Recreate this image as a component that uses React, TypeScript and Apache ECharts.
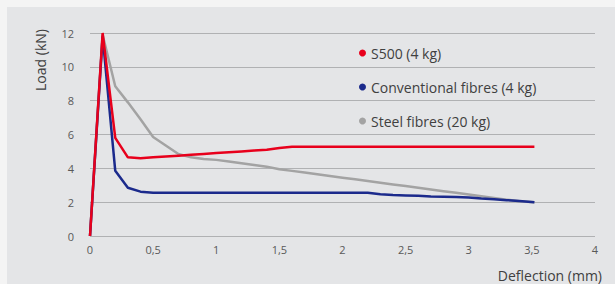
import React, { useEffect, useRef } from "react";
import * as echarts from "echarts";

const deflection = [0, 0.1, 0.2, 0.3, 0.4, 0.5, 0.6, 0.7, 0.8, 0.9, 1.0, 1.1, 1.2, 1.3, 1.4, 1.5, 1.6, 1.7, 1.8, 1.9, 2.0, 2.1, 2.2, 2.3, 2.4, 2.5, 2.6, 2.7, 2.8, 2.9, 3.0, 3.1, 3.2, 3.3, 3.4, 3.52];
const s500 = [0, 12, 5.8, 4.65, 4.6, 4.65, 4.7, 4.75, 4.8, 4.85, 4.9, 4.95, 5.0, 5.05, 5.1, 5.2, 5.28, 5.28, 5.28, 5.28, 5.28, 5.28, 5.28, 5.28, 5.28, 5.28, 5.28, 5.28, 5.28, 5.28, 5.28, 5.28, 5.28, 5.28, 5.28, 5.28];
const conventional = [0, 11.8, 3.85, 2.85, 2.62, 2.55, 2.55, 2.55, 2.55, 2.55, 2.55, 2.55, 2.55, 2.55, 2.55, 2.55, 2.55, 2.55, 2.55, 2.55, 2.55, 2.55, 2.55, 2.47, 2.42, 2.4, 2.38, 2.33, 2.32, 2.3, 2.28, 2.22, 2.17, 2.12, 2.07, 2.0];
const steel = [0, 11.9, 8.85, 7.9, 6.9, 5.85, 5.35, 4.85, 4.65, 4.55, 4.5, 4.4, 4.3, 4.2, 4.1, 3.95, 3.85, 3.75, 3.65, 3.55, 3.45, 3.35, 3.25, 3.15, 3.05, 2.95, 2.85, 2.75, 2.65, 2.55, 2.45, 2.35, 2.25, 2.15, 2.05, 2.0];

const seriesNames = ["S500 (4 kg)", "Conventional fibres (4 kg)", "Steel fibres (20 kg)"];
const seriesColors = ["#e8001c", "#1b2a8c", "#a3a3a3"];
const yAxisTitle = "Load (kN)";
const xAxisTitle = "Deflection (mm)";

const FONT = "'Open Sans', sans-serif";

export default function App() {
  const ref = useRef<HTMLDivElement>(null);
  useEffect(() => {
    const chart = echarts.init(ref.current!, null, { renderer: "svg" });
    const pair = (ys: number[]) => deflection.map((x, i) => [x, ys[i]]);
    const mk = (idx: number, ys: number[], z: number) => ({
      name: seriesNames[idx],
      type: "line",
      data: pair(ys),
      showSymbol: false,
      symbol: "circle",
      z,
      lineStyle: { color: seriesColors[idx], width: 2.5 },
      itemStyle: { color: seriesColors[idx] },
    });
    chart.setOption({
      animation: false,
      backgroundColor: "transparent",
      textStyle: { fontFamily: FONT },
      graphic: [
        { type: "text", x: 40, y: 60, rotation: Math.PI / 2, style: { text: yAxisTitle, font: `14px ${FONT}`, fill: "#404040", align: "center", verticalAlign: "middle" } },
        { type: "text", x: 602, y: 275, style: { text: xAxisTitle, font: `14px ${FONT}`, fill: "#404040", align: "right", verticalAlign: "middle" } },
      ],
      legend: {
        data: seriesNames,
        orient: "vertical",
        left: 354,
        top: 40,
        itemGap: 18,
        icon: "circle",
        itemWidth: 7,
        itemHeight: 7,
        textStyle: { fontFamily: FONT, fontSize: 14, color: "#404040", lineHeight: 16 },
      },
      grid: { left: 90, right: 20, top: 33, bottom: 48 },
      xAxis: {
        type: "value",
        min: 0,
        max: 4,
        interval: 0.5,
        axisLine: { show: false },
        axisTick: { show: false },
        splitLine: { show: false },
        axisLabel: {
          margin: 8,
          fontSize: 11,
          color: "#595959",
          fontFamily: FONT,
          formatter: (v: number) => String(v).replace(".", ","),
        },
      },
      yAxis: {
        type: "value",
        min: 0,
        max: 12,
        interval: 2,
        axisLine: { show: false },
        axisTick: { show: false },
        splitLine: { show: true, lineStyle: { color: "#b0b1b3", type: "solid", width: 1 } },
        axisLabel: { margin: 16, fontSize: 11, color: "#595959", fontFamily: FONT },
      },
      series: [mk(2, steel, 2), mk(1, conventional, 3), mk(0, s500, 4)],
    });
    return () => chart.dispose();
  }, []);
  return (
    <div style={{ position: "absolute", left: 0, top: 0, width: 615, height: 284, background: "#f4f4f4" }}>
      <div style={{ position: "absolute", left: 7, top: 7, width: 608, height: 277, background: "#e4e5e7" }} />
      <div ref={ref} style={{ width: 615, height: 284, position: "absolute", left: 0, top: 0 }} />
    </div>
  );
}
